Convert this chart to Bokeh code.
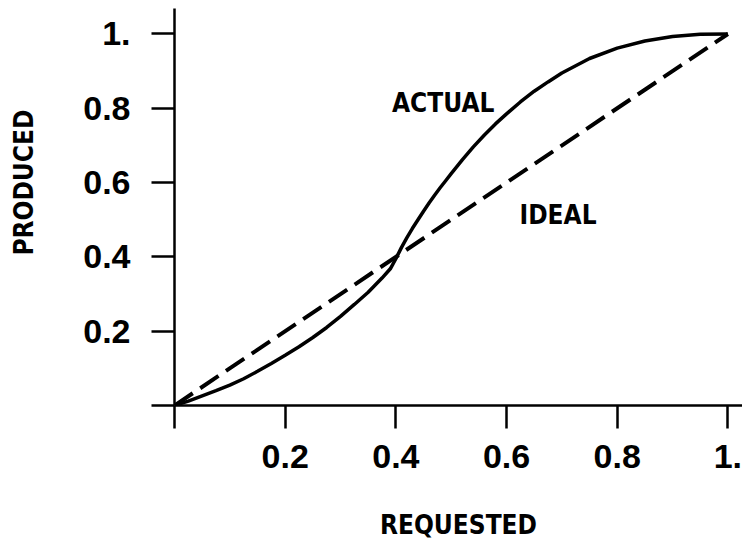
from bokeh.plotting import figure
from bokeh.models import Range1d, FixedTicker, Label
from bokeh.embed import file_html
from bokeh.resources import INLINE

# ---- data ----
actual_x = [0.0, 0.025, 0.05, 0.075, 0.1, 0.125, 0.15, 0.175, 0.2, 0.225, 0.25, 0.275, 0.3,
            0.325, 0.35, 0.375, 0.39, 0.4, 0.41, 0.42, 0.43, 0.44, 0.45, 0.46, 0.47, 0.48,
            0.49, 0.5, 0.52, 0.54, 0.56, 0.58, 0.6, 0.625, 0.65, 0.675, 0.7, 0.75, 0.8,
            0.85, 0.9, 0.95, 1.0]
actual_y = [0.0, 0.012, 0.026, 0.04, 0.055, 0.072, 0.092, 0.113, 0.135, 0.158, 0.183, 0.21, 0.24,
            0.272, 0.305, 0.343, 0.368, 0.395, 0.425, 0.452, 0.477, 0.5, 0.523, 0.545, 0.566, 0.586,
            0.605, 0.624, 0.661, 0.696, 0.728, 0.758, 0.785, 0.817, 0.846, 0.871, 0.895, 0.934, 0.962,
            0.981, 0.993, 0.999, 1.0]
ideal_x = [0.0, 1.0]
ideal_y = [0.0, 1.0]
x_ticks = [0.0, 0.2, 0.4, 0.6, 0.8, 1.0]
y_ticks = [0.0, 0.2, 0.4, 0.6, 0.8, 1.0]
tick_overrides = {0.0: "", 1.0: "1."}
x_title = "REQUESTED"
y_title = "\u00a0" * 6 + "PRODUCED"
actual_name = "ACTUAL"
ideal_name = "IDEAL"

COND = "DejaVu Sans Condensed, Liberation Sans, sans-serif"
SANS = "Liberation Sans, Arial, sans-serif"

W, H = 742, 549
p = figure(width=W, height=H, output_backend="svg", toolbar_location=None,
           x_range=Range1d(0, 1.0264), y_range=Range1d(0, 1.0686),
           min_border_left=174, min_border_right=0, min_border_top=8, min_border_bottom=144)
p.outline_line_color = None
p.grid.visible = False
p.background_fill_color = "white"
p.border_fill_color = "white"

for ax, ticks in ((p.xaxis[0], x_ticks), (p.yaxis[0], y_ticks)):
    ax.ticker = FixedTicker(ticks=ticks)
    ax.major_label_overrides = tick_overrides
    ax.axis_line_width = 2.5
    ax.axis_line_color = "black"
    ax.major_tick_out = 23
    ax.major_tick_in = 0
    ax.major_tick_line_width = 2.5
    ax.major_tick_line_color = "black"
    ax.minor_tick_out = 0
    ax.minor_tick_in = 0
    ax.major_label_text_font = SANS
    ax.major_label_text_font_style = "bold"
    ax.major_label_text_font_size = "34px"
    ax.major_label_text_color = "black"
    ax.axis_label_text_font = COND
    ax.axis_label_text_font_style = "bold"
    ax.axis_label_text_font_size = "26px"
    ax.axis_label_text_color = "black"
p.xaxis.major_label_standoff = 16
p.yaxis.major_label_standoff = 21
p.xaxis.axis_label = x_title
p.yaxis.axis_label = y_title
p.xaxis.axis_label_standoff = 39
p.yaxis.axis_label_standoff = 41

p.line(ideal_x, ideal_y, line_color="black", line_width=4, line_dash="22 9")
p.line(actual_x, actual_y, line_color="black", line_width=3.5)

def lab(text, x, y):
    return Label(x=x, y=y, text=text, text_font=COND, text_font_style="bold",
                 text_font_size="26px", text_align="center", text_baseline="middle",
                 text_color="black")

p.add_layout(lab(actual_name, 0.4856, 0.8135))
p.add_layout(lab(ideal_name, 0.693, 0.514))

open("out.html", "w").write(file_html(p, INLINE))
